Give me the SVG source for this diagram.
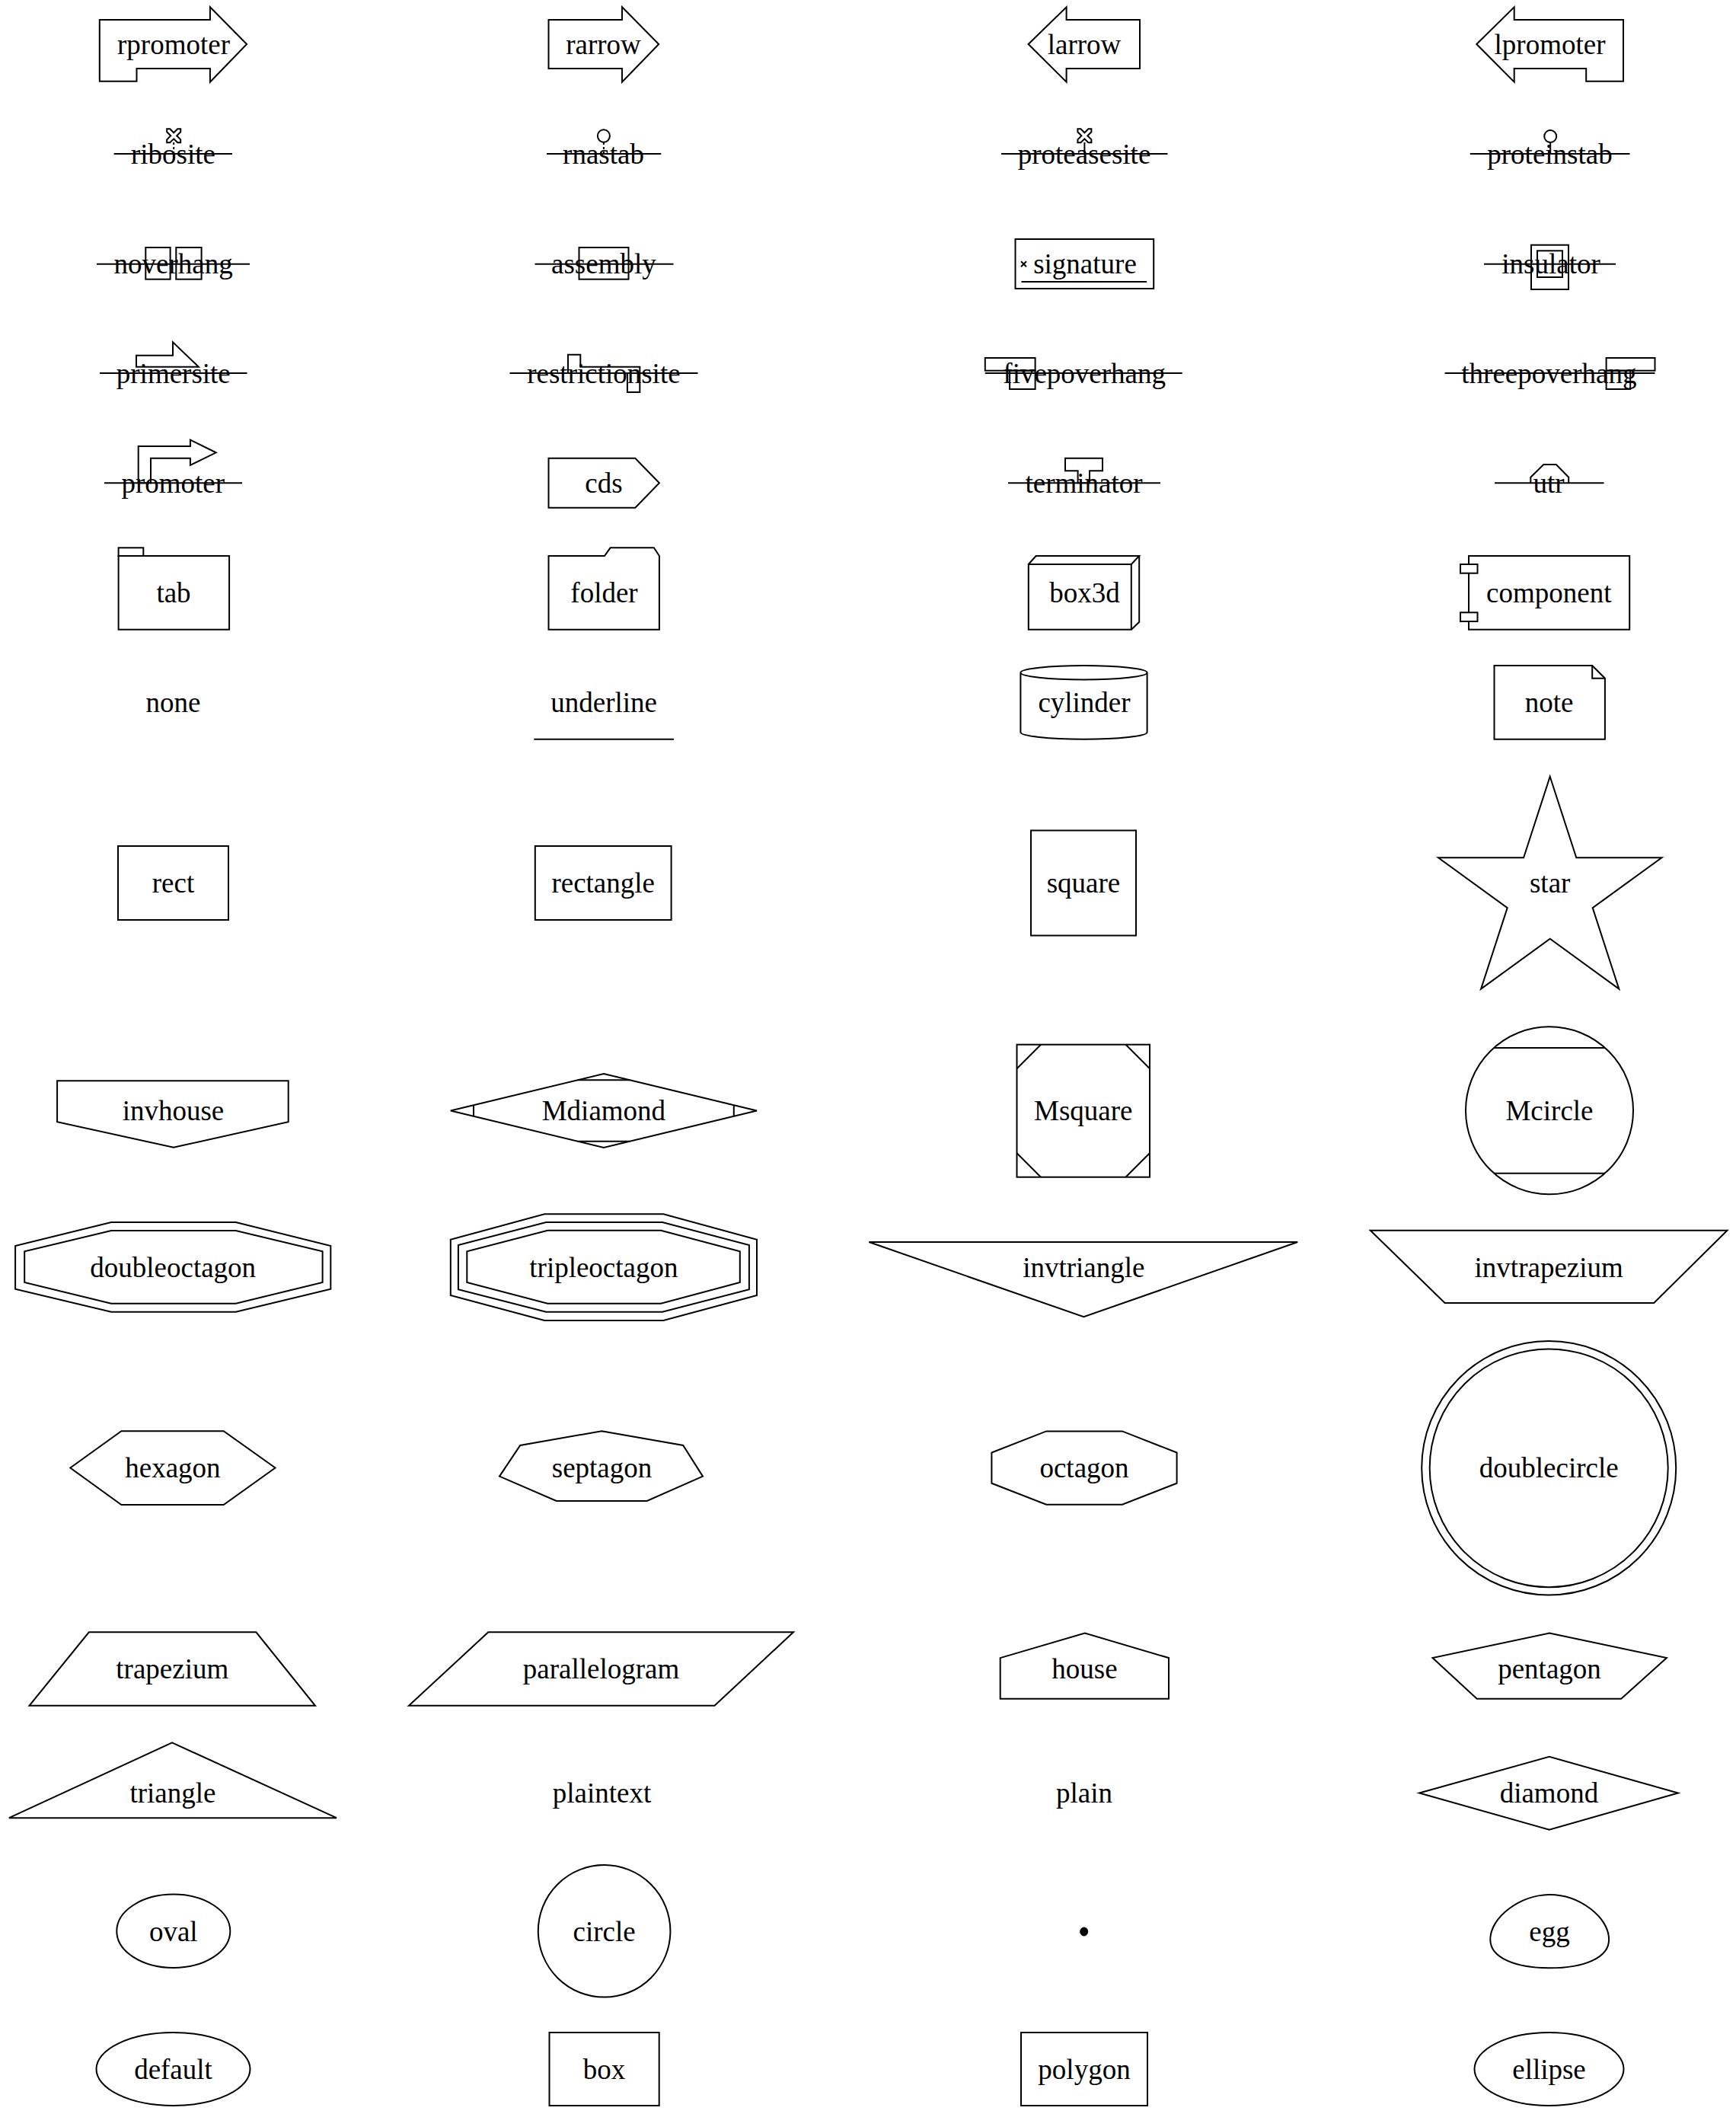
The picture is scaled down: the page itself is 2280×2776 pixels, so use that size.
<svg xmlns="http://www.w3.org/2000/svg" width="2280" height="2776" viewBox="0 0 2280 2776">
<style>
.s{fill:none;stroke:#000;stroke-width:2;stroke-linejoin:miter}
.w{fill:#fff;stroke:#000;stroke-width:2}
.t{font-family:"Liberation Serif","Times New Roman",serif;font-size:37px;text-anchor:middle;fill:#000}
.d{stroke-dasharray:3 3}
</style>
<rect width="2280" height="2776" fill="#fff"/>
<g id="connectors"/>
<!-- Row 1 -->
<g id="node-rpromoter"><polygon class="s" points="130.8,26 275.9,26 275.9,9.3 324.1,58 275.9,107.7 275.9,90 179.5,90 179.5,106.7 130.8,106.7"/><text class="t" x="228" y="70.5">rpromoter</text></g>
<g id="node-rarrow" transform="translate(-2.5,0)"><polygon class="s" points="723,26 819.5,26 819.5,9.3 867.7,58 819.5,107.7 819.5,90 723,90"/><text class="t" x="795" y="70.5">rarrow</text></g>
<g id="node-larrow"><polygon class="s" points="1350.6,58 1400.6,9.3 1400.6,26 1497,26 1497,90 1400.6,90 1400.6,107.7"/><text class="t" x="1424" y="70.5">larrow</text></g>
<g id="node-lpromoter" transform="translate(-4,0)"><polygon class="s" points="1943.3,58 1992.7,9.3 1992.7,26 2136,26 2136,106.7 2087.2,106.7 2087.2,90 1992.7,90 1992.7,107.7"/><text class="t" x="2039.5" y="70.5">lpromoter</text></g>
<!-- Row 2 -->
<g id="node-ribosite"><line class="s" x1="149.7" y1="202" x2="305" y2="202"/><line class="s d" x1="228.2" y1="187" x2="228.2" y2="202"/><polygon class="s" points="219.2,169.3 223.2,169.3 228.2,174.3 233.2,169.3 237.2,169.3 237.2,173.3 232.2,178.3 237.2,183.3 237.2,187.3 233.2,187.3 228.2,182.3 223.2,187.3 219.2,187.3 219.2,183.3 224.2,178.3 219.2,173.3"/><text class="t" x="227.5" y="214.5">ribosite</text></g>
<g id="node-rnastab" transform="translate(-2.5,0)"><line class="s" x1="720.5" y1="202" x2="870.8" y2="202"/><line class="s d" x1="795.4" y1="187" x2="795.4" y2="202"/><ellipse class="s" cx="795.4" cy="178.5" rx="8" ry="8.3"/><text class="t" x="795" y="214.5">rnastab</text></g>
<g id="node-proteasesite"><line class="s" x1="1315" y1="202" x2="1533.5" y2="202"/><line class="s" x1="1424.4" y1="187" x2="1424.4" y2="202"/><polygon class="s" points="1415.4,169.3 1419.4,169.3 1424.4,174.3 1429.4,169.3 1433.4,169.3 1433.4,173.3 1428.4,178.3 1433.4,183.3 1433.4,187.3 1429.4,187.3 1424.4,182.3 1419.4,187.3 1415.4,187.3 1415.4,183.3 1420.4,178.3 1415.4,173.3"/><text class="t" x="1424" y="214.5">proteasesite</text></g>
<g id="node-proteinstab" transform="translate(-4,0)"><line class="s" x1="1934.8" y1="202" x2="2144.5" y2="202"/><line class="s" x1="2040.2" y1="187" x2="2040.2" y2="202"/><ellipse class="s" cx="2040.2" cy="179" rx="8" ry="8"/><text class="t" x="2039.5" y="214.5">proteinstab</text></g>
<!-- Row 3 -->
<g id="node-noverhang"><line class="s" x1="127" y1="346.7" x2="328" y2="346.7"/><rect class="s" x="191.3" y="325" width="32.3" height="41.7"/><rect class="s" x="231.3" y="325" width="33.3" height="41.7"/><text class="t" x="227.7" y="359.2">noverhang</text></g>
<g id="node-assembly" transform="translate(-2.5,0)"><line class="s" x1="705" y1="346.7" x2="887" y2="346.7"/><rect class="s" x="763" y="325" width="65" height="41.7"/><text class="t" x="795.4" y="359.2">assembly</text></g>
<g id="node-signature"><rect class="s" x="1333.5" y="314" width="181.7" height="65"/><line class="s" x1="1341.5" y1="370" x2="1506.1" y2="370" stroke-width="3"/><path class="s" d="M1341,343.2 L1348,350.2 M1348,343.2 L1341,350.2" stroke-width="1.8"/><text class="t" x="1425" y="359.2">signature</text></g>
<g id="node-insulator" transform="translate(-4,0)"><line class="s" x1="1953" y1="346.7" x2="2126" y2="346.7"/><rect class="s" x="2015" y="321.7" width="49" height="58.3"/><rect class="s" x="2023" y="329.3" width="33" height="34.7"/><text class="t" x="2041" y="359.2">insulator</text></g>
<!-- Row 4 -->
<g id="node-primersite"><line class="s" x1="131" y1="490" x2="324.5" y2="490"/><polygon class="s" points="179,466.7 227,466.7 227,449.3 260.8,481.7 179,481.7"/><text class="t" x="227.8" y="502.5">primersite</text></g>
<g id="node-restrictionsite" transform="translate(-2.5,0)"><line class="s" x1="672" y1="490" x2="919" y2="490"/><polygon class="s" points="748.5,490 748.5,465.7 764.8,465.7 764.8,481.7 842.8,481.7 842.8,515 826.4,515 826.4,490"/><text class="t" x="795.4" y="502.5">restrictionsite</text></g>
<g id="node-fivepoverhang"><line class="s" x1="1293.8" y1="490" x2="1552.7" y2="490"/><rect class="s" x="1293.8" y="470" width="65.8" height="16.7"/><rect class="s" x="1326.1" y="486.7" width="33.5" height="24.3"/><text class="t" x="1424.2" y="502.5">fivepoverhang</text></g>
<g id="node-threepoverhang" transform="translate(-4,0)"><line class="s" x1="1901.6" y1="490" x2="2177.5" y2="490"/><rect class="s" x="2113.6" y="470" width="63.9" height="16.7"/><rect class="s" x="2113.6" y="486.7" width="31.6" height="24.3"/><text class="t" x="2038.4" y="502.5">threepoverhang</text></g>
<!-- Row 5 -->
<g id="node-promoter"><line class="s" x1="137" y1="634.3" x2="318" y2="634.3"/><polygon class="s" points="181.7,634.3 181.7,586 249.9,586 249.9,577.7 283.7,594.3 249.9,611 249.9,601.7 198,601.7 198,634.3"/><text class="t" x="227.2" y="646.8">promoter</text></g>
<g id="node-cds" transform="translate(-2.5,0)"><polygon class="s" points="723,601.7 836.8,601.7 868.4,634.3 836.8,666.7 723,666.7"/><text class="t" x="795.5" y="646.8">cds</text></g>
<g id="node-terminator"><line class="s" x1="1324" y1="634.3" x2="1524" y2="634.3"/><polygon class="s" points="1399,601.7 1448,601.7 1448,618.3 1431,618.3 1431,634.3 1415.6,634.3 1415.6,618.3 1399,618.3"/><text class="t" x="1423.6" y="646.8">terminator</text></g>
<g id="node-utr" transform="translate(-4,0)"><line class="s" x1="1967" y1="634.3" x2="2110.5" y2="634.3"/><polyline class="s" points="2014.3,634.3 2014.3,626.7 2031.3,610 2047.8,610 2064.2,626.7 2064.2,634.3"/><text class="t" x="2038" y="646.8">utr</text></g>
<!-- Row 6 -->
<g id="node-tab"><rect class="s" x="155.6" y="730" width="145.5" height="96.7"/><rect class="s" x="155.6" y="719.3" width="32.7" height="10.7"/><text class="t" x="228" y="790.8">tab</text></g>
<g id="node-folder" transform="translate(-2.5,0)"><polygon class="s" points="723,730 796.5,730 804.1,719.3 861.3,719.3 868.4,730 868.4,826.7 723,826.7"/><text class="t" x="796" y="790.8">folder</text></g>
<g id="node-box3d"><rect class="s" x="1350.8" y="741" width="135" height="85.7"/><polyline class="s" points="1350.8,741 1360.6,730 1496.2,730 1485.8,741"/><polyline class="s" points="1496.2,730 1496.2,816.7 1485.8,826.7"/><text class="t" x="1424.6" y="790.8">box3d</text></g>
<g id="node-component" transform="translate(-4,0)"><rect class="s" x="1933" y="730" width="211.2" height="96.7"/><rect class="w" x="1922" y="741" width="22.5" height="11.7"/><rect class="w" x="1922" y="804.3" width="22.5" height="11.7"/><text class="t" x="2038.3" y="790.8">component</text></g>
<!-- Row 7 -->
<g id="node-none"><text class="t" x="227.5" y="934.8">none</text></g>
<g id="node-underline" transform="translate(-2.5,0)"><line class="s" x1="703.8" y1="970.7" x2="887.5" y2="970.7"/><text class="t" x="795.6" y="934.8">underline</text></g>
<g id="node-cylinder"><path class="s" d="M1340.4,883.2 A83.1,9.2 0 0 1 1506.6,883.2 V961.5 A83.1,9.2 0 0 1 1340.4,961.5 Z M1340.4,883.2 A83.1,9.2 0 0 0 1506.6,883.2"/><text class="t" x="1424" y="934.8">cylinder</text></g>
<g id="node-note" transform="translate(-4,0)"><polygon class="s" points="1966.5,874 2095.2,874 2111.9,890.7 2111.9,970.7 1966.5,970.7"/><polyline class="s" points="2095.2,874 2095.2,890.7 2111.9,890.7"/><text class="t" x="2038.6" y="934.8">note</text></g>
<!-- Row 8 -->
<g id="node-rect"><rect class="s" x="155" y="1111" width="145" height="97"/><text class="t" x="227.5" y="1172">rect</text></g>
<g id="node-rectangle"><rect class="s" x="702.8" y="1111" width="178.8" height="97"/><text class="t" x="792.2" y="1172">rectangle</text></g>
<g id="node-square"><rect class="s" x="1354" y="1090.5" width="138" height="138"/><text class="t" x="1423" y="1172">square</text></g>
<g id="node-star"><polygon class="s" points="2035.7,1019.7 2070.3,1126.3 2182.4,1126.3 2091.7,1192.1 2126.3,1298.6 2035.7,1232.8 1945.1,1298.6 1979.7,1192.1 1889,1126.3 2001.1,1126.3"/><text class="t" x="2035.7" y="1172">star</text></g>
<!-- Row 9 -->
<g id="node-invhouse"><polygon class="s" points="75.1,1419.3 378.7,1419.3 378.7,1473.3 227.9,1506.7 75.1,1473.3"/><text class="t" x="227.5" y="1471">invhouse</text></g>
<g id="node-Mdiamond"><polygon class="s" points="792.9,1410 994,1458.5 792.9,1507 591.8,1458.5"/><path class="s" d="M758.5,1418.3 H827.3 M758.5,1498.7 H827.3 M622,1451.2 V1465.8 M963.8,1451.2 V1465.8"/><text class="t" x="792.9" y="1471">Mdiamond</text></g>
<g id="node-Msquare"><rect class="s" x="1335.5" y="1371.7" width="174.5" height="174"/><path class="s" d="M1367,1371.7 L1335.5,1403.2 M1478.5,1371.7 L1510,1403.2 M1335.5,1514.2 L1367,1545.7 M1510,1514.2 L1478.5,1545.7"/><text class="t" x="1422.8" y="1471">Msquare</text></g>
<g id="node-Mcircle"><circle class="s" cx="2035" cy="1458.3" r="110"/><path class="s" d="M1962,1376 H2108 M1962,1540.7 H2108"/><text class="t" x="2035" y="1471">Mcircle</text></g>
<!-- Row 10 -->
<g id="node-doubleoctagon"><polygon class="s" points="146.1,1605 309.7,1605 434.3,1636 434.3,1692.7 309.7,1722.7 146.1,1722.7 20.1,1692.7 20.1,1636"/><polygon class="s" points="146.1,1616 309.7,1616 423.6,1643.3 423.6,1684 309.7,1711.7 146.1,1711.7 32.2,1684 32.2,1643.3"/><text class="t" x="227.2" y="1676.5">doubleoctagon</text></g>
<g id="node-tripleoctagon"><polygon class="s" points="715.1,1594.3 871.3,1594.3 994,1627.7 994,1701 871.3,1734 715.1,1734 591.8,1701 591.8,1627.7"/><polygon class="s" points="717.2,1605 870,1605 983.9,1635 983.9,1693.3 870,1722.7 717.2,1722.7 601.9,1693.3 601.9,1635"/><polygon class="s" points="719.2,1615.7 868,1615.7 971.8,1643.3 971.8,1684 868,1711.7 719.2,1711.7 613.3,1684 613.3,1643.3"/><text class="t" x="792.9" y="1676.5">tripleoctagon</text></g>
<g id="node-invtriangle"><polygon class="s" points="1141.4,1631 1704.2,1631 1423.3,1729.3"/><text class="t" x="1423.3" y="1676.5">invtriangle</text></g>
<g id="node-invtrapezium"><polygon class="s" points="1799.8,1615.7 2268.5,1615.7 2172.2,1711 1897.6,1711"/><text class="t" x="2034.2" y="1676.5">invtrapezium</text></g>
<!-- Row 11 -->
<g id="node-hexagon"><polygon class="s" points="92.3,1927.5 159.4,1879.3 293.7,1879.3 361.5,1927.5 293.7,1976 159.4,1976"/><text class="t" x="226.9" y="1940">hexagon</text></g>
<g id="node-septagon"><polygon class="s" points="790.2,1879.3 897.2,1897.9 923,1938.6 849.7,1971 730.8,1971 656,1938.6 683.2,1897.9"/><text class="t" x="790.5" y="1940">septagon</text></g>
<g id="node-octagon"><polygon class="s" points="1302.4,1907.5 1374.2,1879.4 1473.9,1879.4 1545.6,1907.5 1545.6,1947.7 1473.9,1975.8 1374.2,1975.8 1302.4,1947.7"/><text class="t" x="1424" y="1940">octagon</text></g>
<g id="node-doublecircle" transform="translate(-3.5,0)"><ellipse class="s" cx="2037.7" cy="1927.8" rx="167" ry="166.7"/><ellipse class="s" cx="2037.7" cy="1927.8" rx="156.5" ry="156.4"/><text class="t" x="2037.7" y="1940">doublecircle</text></g>
<!-- Row 12 -->
<g id="node-trapezium"><polygon class="s" points="116.8,2143.3 336.4,2143.3 414,2239.8 38.5,2239.8"/><text class="t" x="226.3" y="2204">trapezium</text></g>
<g id="node-parallelogram"><polygon class="s" points="641.3,2143.3 1042,2143.3 938.5,2239.8 537,2239.8"/><text class="t" x="789.5" y="2204">parallelogram</text></g>
<g id="node-house"><polygon class="s" points="1313.7,2177.1 1424.8,2144.5 1535,2177.1 1535,2230.7 1313.7,2230.7"/><text class="t" x="1424.4" y="2204">house</text></g>
<g id="node-pentagon" transform="translate(-4,0)"><polygon class="s" points="2038.8,2144.5 2192.9,2177.1 2133.2,2230.7 1943.7,2230.7 1885.5,2177.1"/><text class="t" x="2039" y="2204">pentagon</text></g>
<!-- Row 13 -->
<g id="node-triangle"><polygon class="s" points="226,2288.4 442,2387.2 11.9,2387.2"/><text class="t" x="227" y="2367">triangle</text></g>
<g id="node-plaintext"><text class="t" x="790.5" y="2367">plaintext</text></g>
<g id="node-plain"><text class="t" x="1424" y="2367">plain</text></g>
<g id="node-diamond" transform="translate(-4,0)"><polygon class="s" points="1868.1,2354.5 2038.8,2306.7 2208,2354.5 2038.8,2402.7"/><text class="t" x="2038.4" y="2367">diamond</text></g>
<!-- Row 14 -->
<g id="node-oval"><ellipse class="s" cx="227.8" cy="2535.8" rx="74.5" ry="48.2"/><text class="t" x="227.8" y="2548.5">oval</text></g>
<g id="node-circle"><circle class="s" cx="793.6" cy="2535.8" r="86.8"/><text class="t" x="793.6" y="2548.5">circle</text></g>
<g id="node-point"><ellipse cx="1423.7" cy="2536.5" rx="5" ry="5.5" fill="#000" stroke="#000" stroke-width="1"/></g>
<g id="node-egg" transform="translate(-4.5,0)"><path class="s" d="M2040,2488 C2078,2488 2117.6,2517 2117.6,2547 C2117.6,2571 2085,2584.3 2040,2584.3 C1995,2584.3 1961.8,2571 1961.8,2547 C1961.8,2517 2002,2488 2040,2488 Z"/><text class="t" x="2039.5" y="2548.5">egg</text></g>
<!-- Row 15 -->
<g id="node-default"><ellipse class="s" cx="227.5" cy="2717" rx="101" ry="48"/><text class="t" x="227.5" y="2729.5">default</text></g>
<g id="node-box"><rect class="s" x="721.5" y="2669" width="144.2" height="96"/><text class="t" x="793.6" y="2729.5">box</text></g>
<g id="node-polygon"><rect class="s" x="1341" y="2669" width="166" height="96"/><text class="t" x="1424" y="2729.5">polygon</text></g>
<g id="node-ellipse" transform="translate(-4.5,0)"><ellipse class="s" cx="2039" cy="2717" rx="98" ry="48"/><text class="t" x="2039" y="2729.5">ellipse</text></g>
</svg>
